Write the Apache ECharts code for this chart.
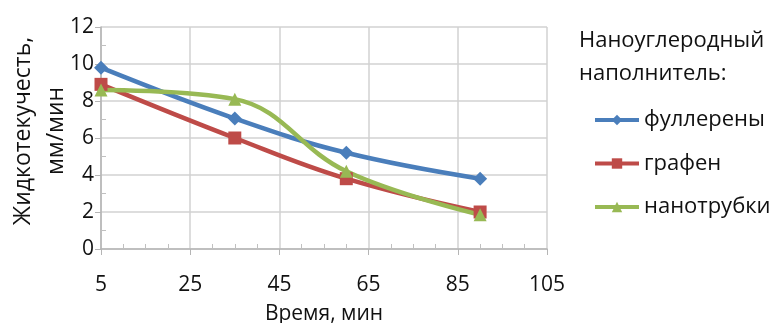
<!DOCTYPE html>
<html>
<head>
<meta charset="utf-8">
<script src="https://cdn.jsdelivr.net/npm/echarts@6/dist/echarts.min.js"></script>
<style>
  html, body { margin: 0; padding: 0; background: #fff; }
  #chart { width: 776px; height: 323px; }
</style>
</head>
<body>
<div id="chart"></div>
<script>
// данные
const seriesNames = ['фуллерены', 'графен', 'нанотрубки'];
const timeMin = [5, 35, 60, 90];
const fullerenes = [9.8, 7.05, 5.2, 3.8];
const graphene = [8.9, 6.0, 3.8, 2.0];
const nanotubes = [8.6, 8.1, 4.2, 1.85];
const colors = ['#4a7ebb', '#be4b48', '#98b954'];
const symbols = ['diamond', 'rect', 'triangle'];

const font = '"Open Sans", "Noto Sans", sans-serif';
const textColor = '#111';
const chart = echarts.init(document.getElementById('chart'));

const pairs = (ys) => timeMin.map((x, i) => [x, ys[i]]);
const allValues = [fullerenes, graphene, nanotubes];

chart.setOption({
  animation: false,
  textStyle: { fontFamily: font },
  grid: { left: 101, right: 229, top: 27, bottom: 74, outerBoundsMode: 'none', containLabel: false },
  title: {
    text: 'Наноуглеродный\nнаполнитель:',
    left: 574, top: 19,
    textStyle: { fontFamily: font, fontSize: 22, fontWeight: 'normal', color: textColor, lineHeight: 33 }
  },
  legend: {
    left: 588, top: 104,
    orient: 'vertical',
    itemWidth: 44, itemHeight: 13, itemGap: 21.5,
    lineStyle: { width: 4 },
    textStyle: { fontFamily: font, fontSize: 22, color: textColor },
    data: seriesNames
  },
  xAxis: {
    type: 'value', min: 5, max: 105, interval: 20,
    name: 'Время, мин', nameLocation: 'middle', nameGap: 55,
    nameTextStyle: { fontFamily: font, fontSize: 21, color: textColor },
    axisLine: { lineStyle: { color: '#b5b5b5', width: 1.5 } },
    axisTick: { show: true, length: 6, lineStyle: { color: '#b5b5b5' } },
    minorTick: { show: true, splitNumber: 4, length: -5, lineStyle: { color: '#c0c0c0' } },
    splitLine: { lineStyle: { color: '#d2d2d2', width: 1.5 } },
    axisLabel: { fontFamily: font, fontSize: 21, color: textColor, margin: 26 }
  },
  yAxis: {
    type: 'value', min: 0, max: 12, interval: 2,
    name: 'Жидкотекучесть,\nмм/мин', nameLocation: 'middle', nameGap: 28, nameMoveOverlap: false,
    nameTextStyle: { fontFamily: font, fontSize: 23, color: textColor, lineHeight: 33, padding: [0, 0, 0, 14] },
    axisLine: { show: true, lineStyle: { color: '#b5b5b5', width: 1.5 } },
    axisTick: { show: true, length: 6, lineStyle: { color: '#b5b5b5' } },
    minorTick: { show: true, splitNumber: 2, length: -5, lineStyle: { color: '#c0c0c0' } },
    splitLine: { lineStyle: { color: '#d2d2d2', width: 1.5 } },
    axisLabel: { fontFamily: font, fontSize: 21, color: textColor, margin: 7 }
  },
  series: seriesNames.map((name, i) => ({
    name: name,
    type: 'line',
    smooth: 0.4,
    data: pairs(allValues[i]),
    symbol: symbols[i],
    symbolSize: i === 0 ? 14 : 13,
    lineStyle: { color: colors[i], width: 4.5 },
    itemStyle: { color: colors[i] }
  }))
});
</script>
</body>
</html>
